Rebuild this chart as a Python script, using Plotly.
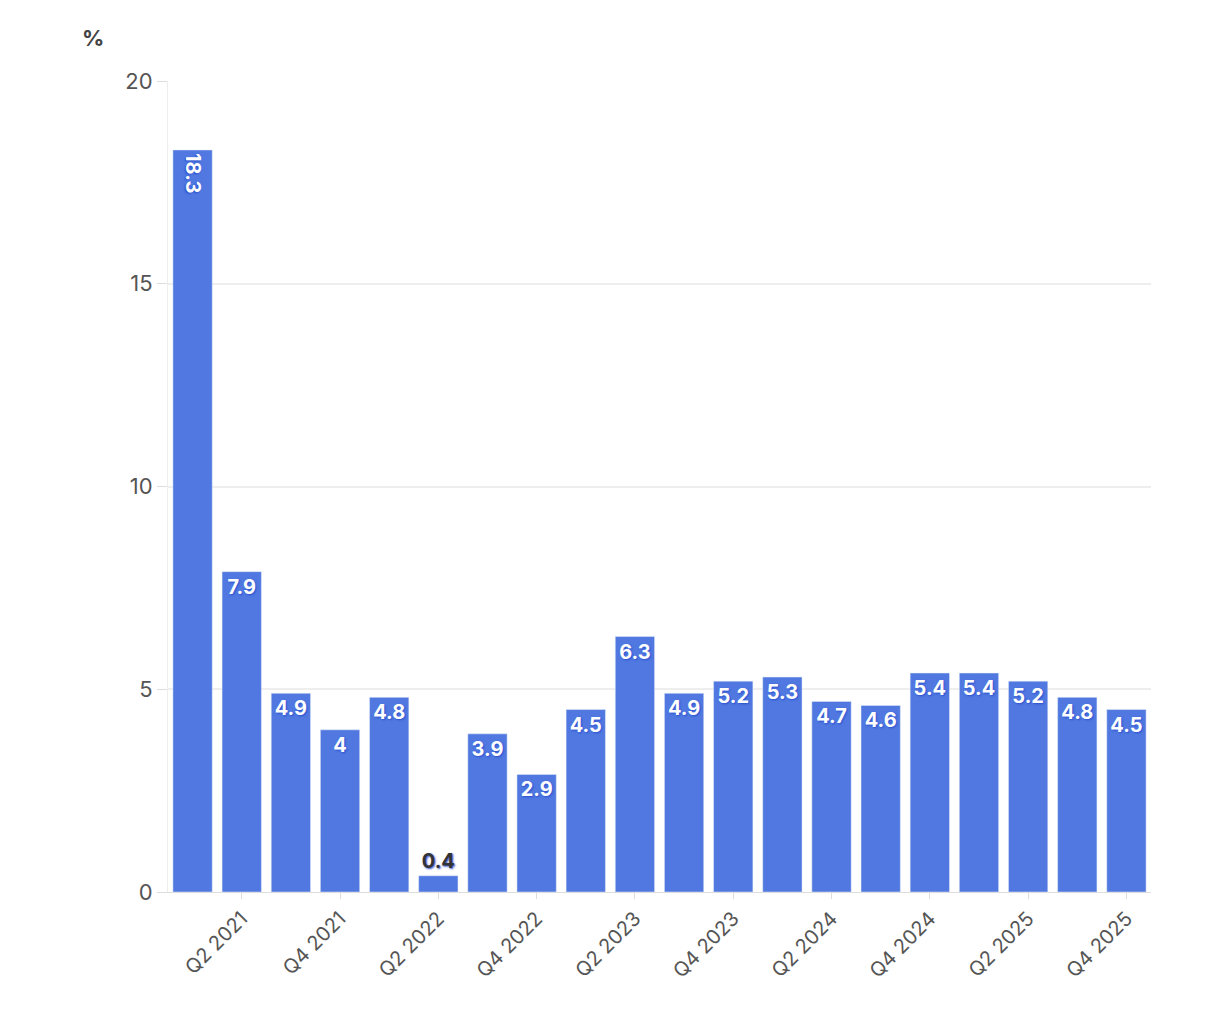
import plotly.graph_objects as go

quarters = [f"Q{q} {y}" for y in range(2021, 2026) for q in range(1, 5)]
values = [18.3, 7.9, 4.9, 4, 4.8, 0.4, 3.9, 2.9, 4.5, 6.3, 4.9, 5.2, 5.3, 4.7, 4.6, 5.4, 5.4, 5.2, 4.8, 4.5]
tick_labels = [q for q in quarters if q.startswith("Q2") or q.startswith("Q4")]

positions = ["outside" if v < 1 else "inside" for v in values]
colors = ["#333333" if v < 1 else "white" for v in values]

fig = go.Figure(go.Bar(
    x=quarters, y=values, text=[f"{v:g}" for v in values],
    textposition=positions, insidetextanchor="end",
    textfont=dict(size=20, color=colors, family="Inter", weight="bold",
                  shadow="1px 1px 2px #2a4fd0"),
    marker=dict(color="rgb(80,120,224)"), cliponaxis=False,
))
fig.update_layout(
    width=1228, height=1018, plot_bgcolor="white", paper_bgcolor="white",
    margin=dict(l=160, r=85, t=73, b=134), bargap=0.2, showlegend=False,
    font=dict(family="Inter", size=20, color="#555"),
    uniformtext=dict(minsize=18, mode="show"),
    annotations=[dict(text="<b>%</b>", x=-0.09, y=1.035, xref="paper", yref="paper",
                      showarrow=False, font=dict(size=22, color="#444"), xanchor="left", yanchor="bottom")],
)
fig.update_xaxes(tickmode="array", tickvals=tick_labels, ticktext=tick_labels, tickangle=-45,
                 ticks="outside", ticklen=6, tickcolor="#ddd", showline=True, linecolor="#ddd",
                 tickfont=dict(size=20, color="#555"))
fig.update_yaxes(range=[0, 20], tickvals=[0, 5, 10, 15, 20], gridcolor="#eee", gridwidth=2,
                 zeroline=False, showline=True, linecolor="#eee", ticks="outside", ticklen=10,
                 tickcolor="#ddd", tickfont=dict(size=22, color="#555"))
fig.write_html("out.html")
